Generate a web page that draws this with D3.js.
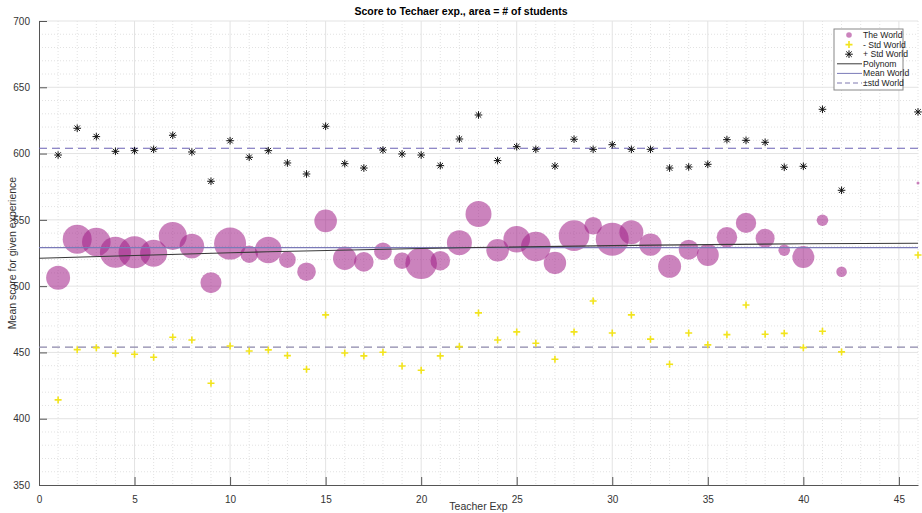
<!DOCTYPE html>
<html>
<head>
<meta charset="utf-8">
<script src="https://cdn.jsdelivr.net/npm/d3@7"></script>
<style>
  body { margin: 0; background: #fff; }
  svg { font-family: "Liberation Sans", Arial, sans-serif; }
</style>
</head>
<body>
<script>
// values
var teacherExp = [1, 2, 3, 4, 5, 6, 7, 8, 9, 10, 11, 12, 13, 14, 15, 16, 17, 18, 19, 20, 21,
  22, 23, 24, 25, 26, 27, 28, 29, 30, 31, 32, 33, 34, 35, 36, 37, 38, 39, 40, 41, 42, 46];
var meanScore = [506.4, 535.4, 533.3, 525.6, 525.6, 524.8, 537.9, 530.3, 502.6, 532.1, 524.1,
  527.3, 520.0, 510.9, 549.2, 521.0, 518.3, 526.3, 519.2, 517.3, 519.2, 532.8, 554.4, 527.1,
  535.4, 529.8, 517.5, 538.1, 545.6, 535.4, 540.6, 531.3, 515.0, 527.5, 523.5, 536.9, 547.7,
  536.1, 527.1, 522.0, 549.7, 510.9, 577.8];
var plusStd = [598.9, 619.1, 612.8, 601.7, 602.2, 603.2, 613.8, 601.2, 579.1, 609.7, 597.2,
  602.2, 592.9, 584.6, 620.6, 592.4, 589.1, 602.7, 599.7, 598.9, 590.9, 611.0, 629.1, 594.7,
  605.2, 603.2, 590.6, 610.8, 603.2, 606.7, 603.2, 603.2, 589.1, 589.9, 591.9, 610.5, 610.0,
  608.5, 589.7, 590.4, 633.4, 572.3, 631.4];
var minusStd = [414.2, 452.1, 453.6, 449.4, 448.6, 446.4, 461.5, 459.4, 426.8, 454.9, 451.1,
  451.9, 447.6, 437.3, 478.3, 449.6, 447.4, 450.1, 439.8, 436.6, 447.4, 454.4, 479.8, 459.4,
  465.5, 456.9, 444.9, 465.5, 488.8, 464.7, 478.3, 460.0, 441.1, 464.7, 455.7, 463.4, 485.8,
  463.7, 464.4, 453.6, 466.0, 450.4, 523.5];
var students = [576, 841, 818, 961, 1024, 729, 784, 605, 441, 1024, 303, 708, 276, 346, 511,
  548, 384, 310, 276, 999, 384, 625, 676, 511, 708, 876, 502, 936, 310, 1089, 576, 502, 529,
  400, 484, 424, 416, 361, 135, 484, 135, 112, 9];

var polyX = [0, 10, 20, 30, 40, 46];
var polyY = [521.0, 525.2, 528.4, 530.6, 532.0, 532.3];
var worldMean = 529;
var worldStdBand = [454, 604];

var xTicks = [0, 5, 10, 15, 20, 25, 30, 35, 40, 45];
var yTicks = [350, 400, 450, 500, 550, 600, 650, 700];
var legendLabels = ["The World", "- Std World", "+ Std World", "Polynom", "Mean World", "\u00b1std World"];

// layout
var svgWidth = 922, svgHeight = 513;
var margin = { top: 21, right: 4, bottom: 28, left: 39 };
var chartWidth = svgWidth - margin.left - margin.right;
var chartHeight = svgHeight - margin.top - margin.bottom;

var svg = d3.select("body").append("svg")
  .attr("width", svgWidth)
  .attr("height", svgHeight);

var chartGroup = svg.append("g")
  .attr("transform", `translate(${margin.left}, ${margin.top})`);

var x = d3.scaleLinear().domain([0, 46]).range([0, chartWidth]);
var y = d3.scaleLinear().domain([350, 700]).range([chartHeight, 0]);
var r = d3.scaleSqrt().domain([0, 1089]).range([0, 16.5]);

// minor grid (dotted)
chartGroup.append("g").selectAll("line")
  .data(d3.range(1, 47).filter(d => d % 5 !== 0))
  .enter().append("line")
  .attr("x1", d => x(d)).attr("x2", d => x(d))
  .attr("y1", 0).attr("y2", chartHeight)
  .attr("stroke", "#e2e2e2").attr("stroke-dasharray", "1,2");
chartGroup.append("g").selectAll("line")
  .data(d3.range(360, 700, 10).filter(d => d % 50 !== 0))
  .enter().append("line")
  .attr("x1", 0).attr("x2", chartWidth)
  .attr("y1", d => y(d)).attr("y2", d => y(d))
  .attr("stroke", "#e2e2e2").attr("stroke-dasharray", "1,2");

// major grid
chartGroup.append("g").selectAll("line")
  .data(xTicks.slice(1))
  .enter().append("line")
  .attr("x1", d => x(d)).attr("x2", d => x(d))
  .attr("y1", 0).attr("y2", chartHeight)
  .attr("stroke", "#e3e3e3");
chartGroup.append("g").selectAll("line")
  .data(yTicks.slice(1))
  .enter().append("line")
  .attr("x1", 0).attr("x2", chartWidth)
  .attr("y1", d => y(d)).attr("y2", d => y(d))
  .attr("stroke", "#e3e3e3");

// axes, ticks pointing inward like matlab
var bottomAxis = d3.axisBottom(x).tickValues(xTicks).tickSizeInner(-8).tickSizeOuter(0).tickPadding(11);
var leftAxis = d3.axisLeft(y).tickValues(yTicks).tickSizeInner(-8).tickSizeOuter(0).tickPadding(12);

var gx = chartGroup.append("g")
  .attr("transform", `translate(0, ${chartHeight})`)
  .call(bottomAxis);
var gy = chartGroup.append("g").call(leftAxis);
[gx, gy].forEach(function(g) {
  g.select(".domain").attr("stroke", "#555");
  g.selectAll(".tick line").attr("stroke", "#555");
  g.selectAll(".tick text").attr("fill", "#333").style("font-size", "10px")
    .style("font-family", "'Liberation Sans', Arial, sans-serif");
});
gy.selectAll(".tick text").attr("dx", "3");

// bubbles
chartGroup.append("g").selectAll("circle")
  .data(teacherExp)
  .enter().append("circle")
  .attr("cx", (d, i) => x(d))
  .attr("cy", (d, i) => y(meanScore[i]))
  .attr("r", (d, i) => r(students[i]))
  .attr("fill", "rgb(160,30,135)")
  .attr("fill-opacity", 0.55);

// reference lines
var line = d3.line().x(d => x(d[0])).y(d => y(d[1]));
chartGroup.append("path")
  .datum([[0, worldStdBand[1]], [46, worldStdBand[1]]])
  .attr("d", line).attr("fill", "none")
  .attr("stroke", "#6b62b5").attr("stroke-width", 1.2).attr("stroke-dasharray", "8,5");
chartGroup.append("path")
  .datum([[0, worldStdBand[0]], [46, worldStdBand[0]]])
  .attr("d", line).attr("fill", "none")
  .attr("stroke", "#8c87aa").attr("stroke-width", 1.2).attr("stroke-dasharray", "8,5");
chartGroup.append("path")
  .datum([[0, worldMean], [46, worldMean]])
  .attr("d", line).attr("fill", "none")
  .attr("stroke", "#7a7ab8").attr("stroke-width", 1.2);
chartGroup.append("path")
  .datum(polyX.map((d, i) => [d, polyY[i]]))
  .attr("d", line.curve(d3.curveNatural)).attr("fill", "none")
  .attr("stroke", "#3a3a3a").attr("stroke-width", 1.1);

// marker shapes
function plusPath(s) {
  return `M${-s},0H${s}M0,${-s}V${s}`;
}
function starPath(s) {
  var d = s * 0.72;
  return `M${-s},0H${s}M0,${-s}V${s}M${-d},${-d}L${d},${d}M${-d},${d}L${d},${-d}`;
}

chartGroup.append("g").selectAll("path")
  .data(teacherExp)
  .enter().append("path")
  .attr("transform", (d, i) => `translate(${x(d)},${y(minusStd[i])})`)
  .attr("d", plusPath(3.5))
  .attr("stroke", "#f2e41c").attr("stroke-width", 1.6).attr("fill", "none");

chartGroup.append("g").selectAll("path")
  .data(teacherExp)
  .enter().append("path")
  .attr("transform", (d, i) => `translate(${x(d)},${y(plusStd[i])})`)
  .attr("d", starPath(3.8))
  .attr("stroke", "#111").attr("stroke-width", 1).attr("fill", "none");

// title and labels
svg.append("text")
  .attr("x", 461).attr("y", 15)
  .attr("text-anchor", "middle")
  .style("font-size", "10.5px").style("font-weight", "bold")
  .text("Score to Techaer exp., area = # of students");
svg.append("text")
  .attr("x", margin.left + chartWidth / 2).attr("y", 510)
  .attr("text-anchor", "middle")
  .style("font-size", "10.5px").attr("fill", "#333")
  .text("Teacher Exp");
svg.append("text")
  .attr("transform", `translate(16, ${margin.top + chartHeight / 2}) rotate(-90)`)
  .attr("text-anchor", "middle")
  .style("font-size", "10.5px").attr("fill", "#333")
  .text("Mean score for given experience");

// legend
var legend = svg.append("g").attr("transform", "translate(834, 29)");
legend.append("rect")
  .attr("width", 69).attr("height", 61)
  .attr("fill", "#fff").attr("stroke", "#888");
var rowY = d3.range(legendLabels.length).map(i => 6 + i * 9.6);
legend.append("circle").attr("cx", 15).attr("cy", rowY[0]).attr("r", 2.8)
  .attr("fill", "rgb(160,30,135)").attr("fill-opacity", 0.55);
legend.append("path").attr("transform", `translate(15,${rowY[1]})`).attr("d", plusPath(3.5))
  .attr("stroke", "#f2e41c").attr("stroke-width", 1.6);
legend.append("path").attr("transform", `translate(15,${rowY[2]})`).attr("d", starPath(3.8))
  .attr("stroke", "#111").attr("stroke-width", 1);
legend.append("line").attr("x1", 3).attr("x2", 28).attr("y1", rowY[3]).attr("y2", rowY[3])
  .attr("stroke", "#3a3a3a");
legend.append("line").attr("x1", 3).attr("x2", 28).attr("y1", rowY[4]).attr("y2", rowY[4])
  .attr("stroke", "#7a7ab8");
legend.append("line").attr("x1", 3).attr("x2", 28).attr("y1", rowY[5]).attr("y2", rowY[5])
  .attr("stroke", "#7f78b0").attr("stroke-dasharray", "5,3");
legend.selectAll("text.lbl")
  .data(legendLabels)
  .enter().append("text")
  .attr("class", "lbl")
  .attr("x", 29).attr("y", (d, i) => rowY[i] + 3)
  .style("font-size", "8.6px").attr("fill", "#222")
  .text(d => d);
</script>
</body>
</html>
